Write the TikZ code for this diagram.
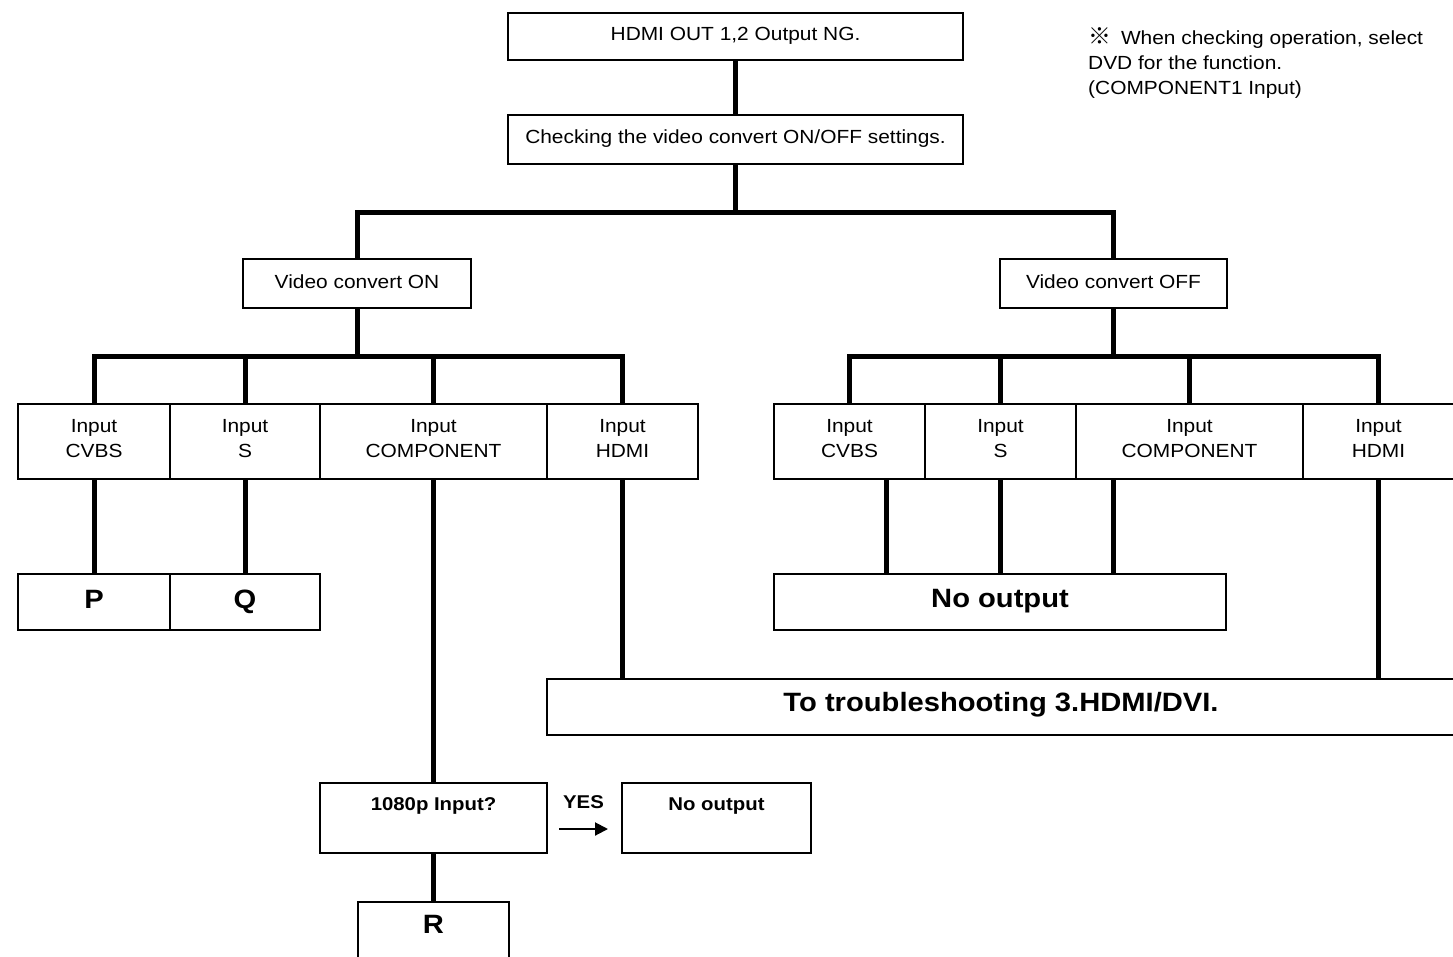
\documentclass[tikz,border=0pt]{standalone}
\usepackage{fontspec}
\setmainfont{Liberation Sans}[FakeStretch=1.1]
\newfontfamily\refmarkfont{Noto Sans CJK JP}[Scale=1.2]
\usetikzlibrary{arrows.meta,calc}
\definecolor{FlowInk}{HTML}{000000}
\newcommand\flowtext{\fontsize{19pt}{25pt}\selectfont}
\newcommand\flowbold{\fontsize{18.5pt}{25pt}\selectfont\bfseries}
\newcommand\flowbig{\fontsize{26.5pt}{30pt}\selectfont\bfseries}
\tikzset{
  flow/base/.style={
    draw=FlowInk, line width=2pt, fill=white,
    inner sep=0pt, font=\flowtext, align=center
  },
  flow/box/.style={flow/base, text height=13pt, text depth=6pt},
  flow/cell/.style={flow/base, minimum height=75pt, text depth=6pt},
  flow/mark/.style={flow/base, font=\flowbig, minimum height=56pt,
    text height=19pt, text depth=7pt},
  flow/end/.style={flow/base, font=\flowbig, minimum height=56pt,
    text height=19pt, text depth=9pt},
  flow/ask/.style={flow/base, font=\flowbold, minimum height=70pt,
    text height=13pt, text depth=29pt},
  flow/link/.style={draw=FlowInk, line width=5pt},
  flow/arrow/.style={
    -{Triangle[length=13pt,width=13pt]}, draw=FlowInk, line width=2pt
  },
  flow/note/.style={font=\flowtext, align=left, inner sep=0pt}
}

\begin{document}
\begin{tikzpicture}[x=1pt,y=-1pt]
  \fill[white] (0,0) rectangle (1453,956);
  \useasboundingbox (0,0) rectangle (1453,956);
  \clip (0,0) rectangle (1453,956);
  % top of the chart
  \node[flow/box,minimum width=455pt,minimum height=47pt] (start) at (735.5,36.5)
    {HDMI OUT 1,2 Output NG.};
  \node[flow/box,minimum width=455pt,minimum height=49pt] (check) at (735.5,139.5)
    {Checking the video convert ON/OFF settings.};
  \node[flow/note,anchor=north west] (note) at (1088,27)
    {{\refmarkfont ※}\hspace{10pt}When checking operation, select\\
     DVD for the function.\\
     (COMPONENT1 Input)};
  \node[flow/box,minimum width=228pt,minimum height=49pt,text depth=4pt] (on) at (357,283.5)
    {Video convert ON};
  \node[flow/box,minimum width=227pt,minimum height=49pt,text depth=4pt] (off) at (1113.5,283.5)
    {Video convert OFF};
  % input rows
  \foreach \x/\w/\name/\lab in {94/152/cvbs/CVBS,245/150/s/S,433.5/227/comp/COMPONENT,622.5/151/hdmi/HDMI}
    \node[flow/cell,minimum width=\w pt] (on\name) at (\x,441.5) {Input\\\lab};
  \foreach \x/\w/\name/\lab in {849.5/151/cvbs/CVBS,1000.5/151/s/S,1189.5/227/comp/COMPONENT,1378.5/151/hdmi/HDMI}
    \node[flow/cell,minimum width=\w pt] (off\name) at (\x,441.5) {Input\\\lab};
  % results
  \node[flow/mark,minimum width=152pt] (p) at (94,602) {P};
  \node[flow/mark,minimum width=150pt] (q) at (245,602) {Q};
  \node[flow/end,minimum width=452pt] (noout) at (1000,602) {No output};
  \node[flow/end,minimum width=908pt,text depth=11pt] (trouble) at (1001,707)
    {To troubleshooting 3.HDMI/DVI.};
  \node[flow/ask,minimum width=227pt] (ask) at (433.5,818) {1080p Input?};
  \node[flow/ask,minimum width=189pt] (none) at (716.5,818) {No output};
  \node[flow/mark,minimum width=151pt,minimum height=60pt,text depth=17pt] (r) at (433.5,932) {R};
  % connectors
  \coordinate (topbar) at (736,212);
  \coordinate (onbar) at (357,356);
  \coordinate (offbar) at (1113.5,356);
  \draw[flow/link] (start) -- (check);
  \draw[flow/link] (check.south) -- (check.south |- topbar);
  \draw[flow/link] (on.north) |- (topbar) -| (off.north);
  \draw[flow/link] (on.south) -- (onbar);
  \draw[flow/link] (oncvbs.north) |- (onbar) -| (onhdmi.north);
  \draw[flow/link] (off.south) -- (offbar);
  \draw[flow/link] (offcvbs.north) |- (offbar) -| (offhdmi.north);
  \foreach \name in {s,comp} {
    \draw[flow/link] (on\name.north) -- (on\name.north |- onbar);
    \draw[flow/link] (off\name.north) -- (off\name.north |- offbar);
  }
  \draw[flow/link] (oncvbs) -- (p);
  \draw[flow/link] (ons) -- (q);
  \draw[flow/link] (oncomp) -- (ask);
  \draw[flow/link] (ask) -- (r);
  \draw[flow/link] (onhdmi.south) -- (onhdmi.south |- trouble.north);
  \draw[flow/link] (offhdmi.south) -- (offhdmi.south |- trouble.north);
  \draw[flow/link] ($(noout.north west)!.25!(noout.north east)$) coordinate (outa)
    -- (outa |- offcvbs.south);
  \draw[flow/link] (offs.south) -- (offs.south |- noout.north);
  \draw[flow/link] ($(noout.north west)!.75!(noout.north east)$) coordinate (outc)
    -- (outc |- offcomp.south);
  \draw[flow/arrow] ([xshift=11pt,yshift=-11pt]ask.east) -- ([xshift=-13pt,yshift=-11pt]none.west)
    node[midway,above=19pt,font=\flowbold,inner sep=0pt] (yes) {YES};
\end{tikzpicture}
\end{document}
